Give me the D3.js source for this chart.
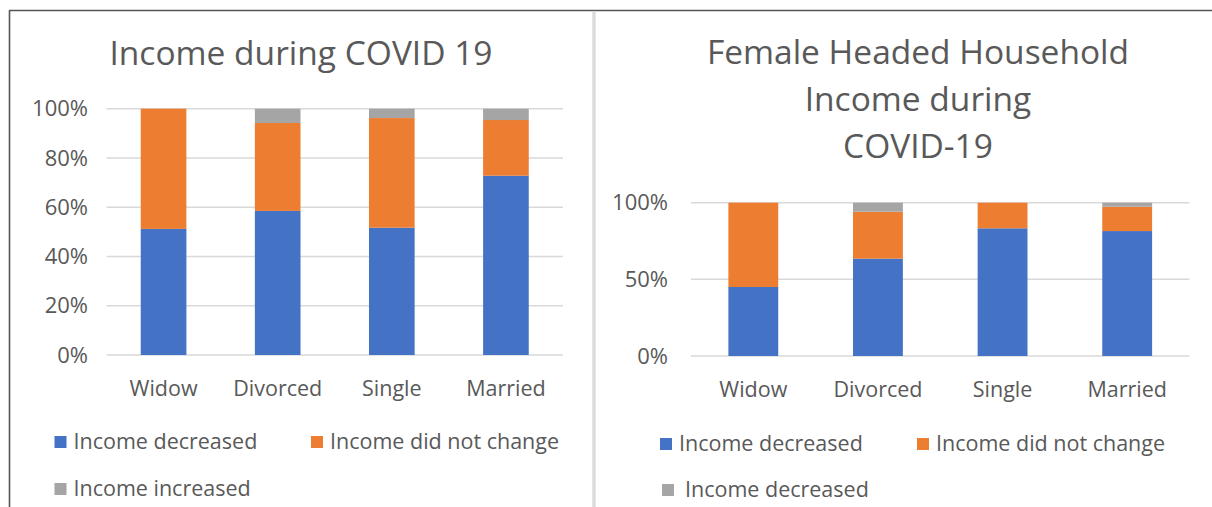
<!DOCTYPE html>
<html><head><meta charset="utf-8">
<script src="https://cdn.jsdelivr.net/npm/d3@7"></script>
<style>body{margin:0;background:#fff}svg{display:block}</style>
</head><body>
<svg id="c" width="1212" height="507"></svg>
<script>
const categories = ["Widow", "Divorced", "Single", "Married"];
const seriesKeys = ["dec", "same", "inc"];
const leftDecreased = [51.2, 58.5, 51.7, 72.8];
const leftNoChange  = [48.8, 35.7, 44.5, 22.6];
const leftIncreased = [0, 5.8, 3.8, 4.6];
const rightDecreased = [45.0, 63.5, 83.3, 81.5];
const rightNoChange  = [55.0, 30.6, 16.7, 15.9];
const rightIncreased = [0, 5.9, 0, 2.6];
const leftTicks = [0, 20, 40, 60, 80, 100];
const rightTicks = [0, 50, 100];
const leftTitle = ["Income during COVID 19"];
const rightTitle = ["Female Headed Household", "Income during", "COVID-19"];
const leftLegend = ["Income decreased", "Income did not change", "Income increased"];
const rightLegend = ["Income decreased", "Income did not change", "Income decreased"];

const colors = {dec: "#4472C4", same: "#ED7D31", inc: "#A5A5A5"};
const textColor = "#595959";
const FONT = "'Open Sans', sans-serif";
const svg = d3.select("#c");

// frame
svg.append("line").attr("x1", 9).attr("x2", 1212).attr("y1", 10.5).attr("y2", 10.5).attr("stroke", "#555").attr("stroke-width", 1.6);
svg.append("line").attr("x1", 9.5).attr("x2", 9.5).attr("y1", 10).attr("y2", 507).attr("stroke", "#555").attr("stroke-width", 1.6);
svg.append("line").attr("x1", 594).attr("x2", 594).attr("y1", 11.5).attr("y2", 507).attr("stroke", "#dcdcdc").attr("stroke-width", 3.5);

function rows(dec, same, inc) {
  return categories.map((c, i) => ({cat: c, dec: dec[i], same: same[i], inc: inc[i]}));
}

function drawChart(cfg) {
  const g = svg.append("g");
  const x = d3.scaleBand().domain(categories).range([cfg.x0, cfg.x1]).paddingInner(0.6).paddingOuter(0.3);
  const y = d3.scaleLinear().domain([0, 100]).range([cfg.yBottom, cfg.yTop]);

  // title
  cfg.title.forEach((t, i) => {
    g.append("text").attr("x", cfg.titleX).attr("y", cfg.titleY + i * cfg.titleLH)
      .attr("text-anchor", "middle").attr("font-family", FONT).attr("font-size", cfg.titleSize)
      .attr("fill", textColor).text(t);
  });

  // gridlines
  g.selectAll(".grid").data(cfg.ticks).join("line")
    .attr("x1", cfg.x0).attr("x2", cfg.x1)
    .attr("y1", d => y(d)).attr("y2", d => y(d))
    .attr("stroke", "#d9d9d9").attr("stroke-width", 1.5);

  // y axis labels
  const yAxis = d3.axisLeft(y).tickValues(cfg.ticks).tickFormat(d => d + "%").tickSize(0).tickPadding(0);
  const ya = g.append("g").attr("transform", `translate(${cfg.yLabelRight},0)`).call(yAxis);
  ya.select(".domain").remove();
  ya.selectAll("text").attr("font-family", FONT).attr("font-size", 22).attr("fill", textColor);

  // bars
  const stack = d3.stack().keys(seriesKeys);
  const stacked = stack(cfg.data);
  g.selectAll(".s").data(stacked).join("g").attr("fill", d => colors[d.key])
    .selectAll("rect").data(d => d).join("rect")
    .attr("x", d => x(d.data.cat)).attr("width", x.bandwidth())
    .attr("y", d => y(d[1])).attr("height", d => y(d[0]) - y(d[1]));

  // x axis labels
  const xAxis = d3.axisBottom(x).tickSize(0).tickPadding(0);
  const xa = g.append("g").attr("transform", `translate(0,${cfg.xLabelY})`).call(xAxis);
  xa.select(".domain").remove();
  xa.selectAll("text").attr("font-family", FONT).attr("font-size", 21.5).attr("fill", textColor).attr("dy", 0);

  // legend
  cfg.legend.forEach((name, i) => {
    const p = cfg.legendPos[i];
    g.append("rect").attr("x", p[0]).attr("y", p[1] - 13).attr("width", 12).attr("height", 12).attr("fill", colors[seriesKeys[i]]);
    g.append("text").attr("x", p[0] + p[2]).attr("y", p[1]).attr("font-family", FONT).attr("font-size", 21.5)
      .attr("fill", textColor).text(name);
  });
}

drawChart({
  data: rows(leftDecreased, leftNoChange, leftIncreased),
  ticks: leftTicks, title: leftTitle, legend: leftLegend,
  x0: 106.5, x1: 563, yTop: 108.7, yBottom: 355,
  titleX: 301, titleY: 65, titleLH: 47, titleSize: 33.5,
  yLabelRight: 88, xLabelY: 396,
  legendPos: [[54.5, 449, 19], [311, 449, 19], [54.5, 496, 19]]
});

drawChart({
  data: rows(rightDecreased, rightNoChange, rightIncreased),
  ticks: rightTicks, title: rightTitle, legend: rightLegend,
  x0: 691, x1: 1189.5, yTop: 202.7, yBottom: 356,
  titleX: 918, titleY: 64, titleLH: 47, titleSize: 33.5,
  yLabelRight: 668, xLabelY: 397,
  legendPos: [[660, 451, 19], [917, 451, 19], [662, 497, 23]]
});
</script>
</body></html>
